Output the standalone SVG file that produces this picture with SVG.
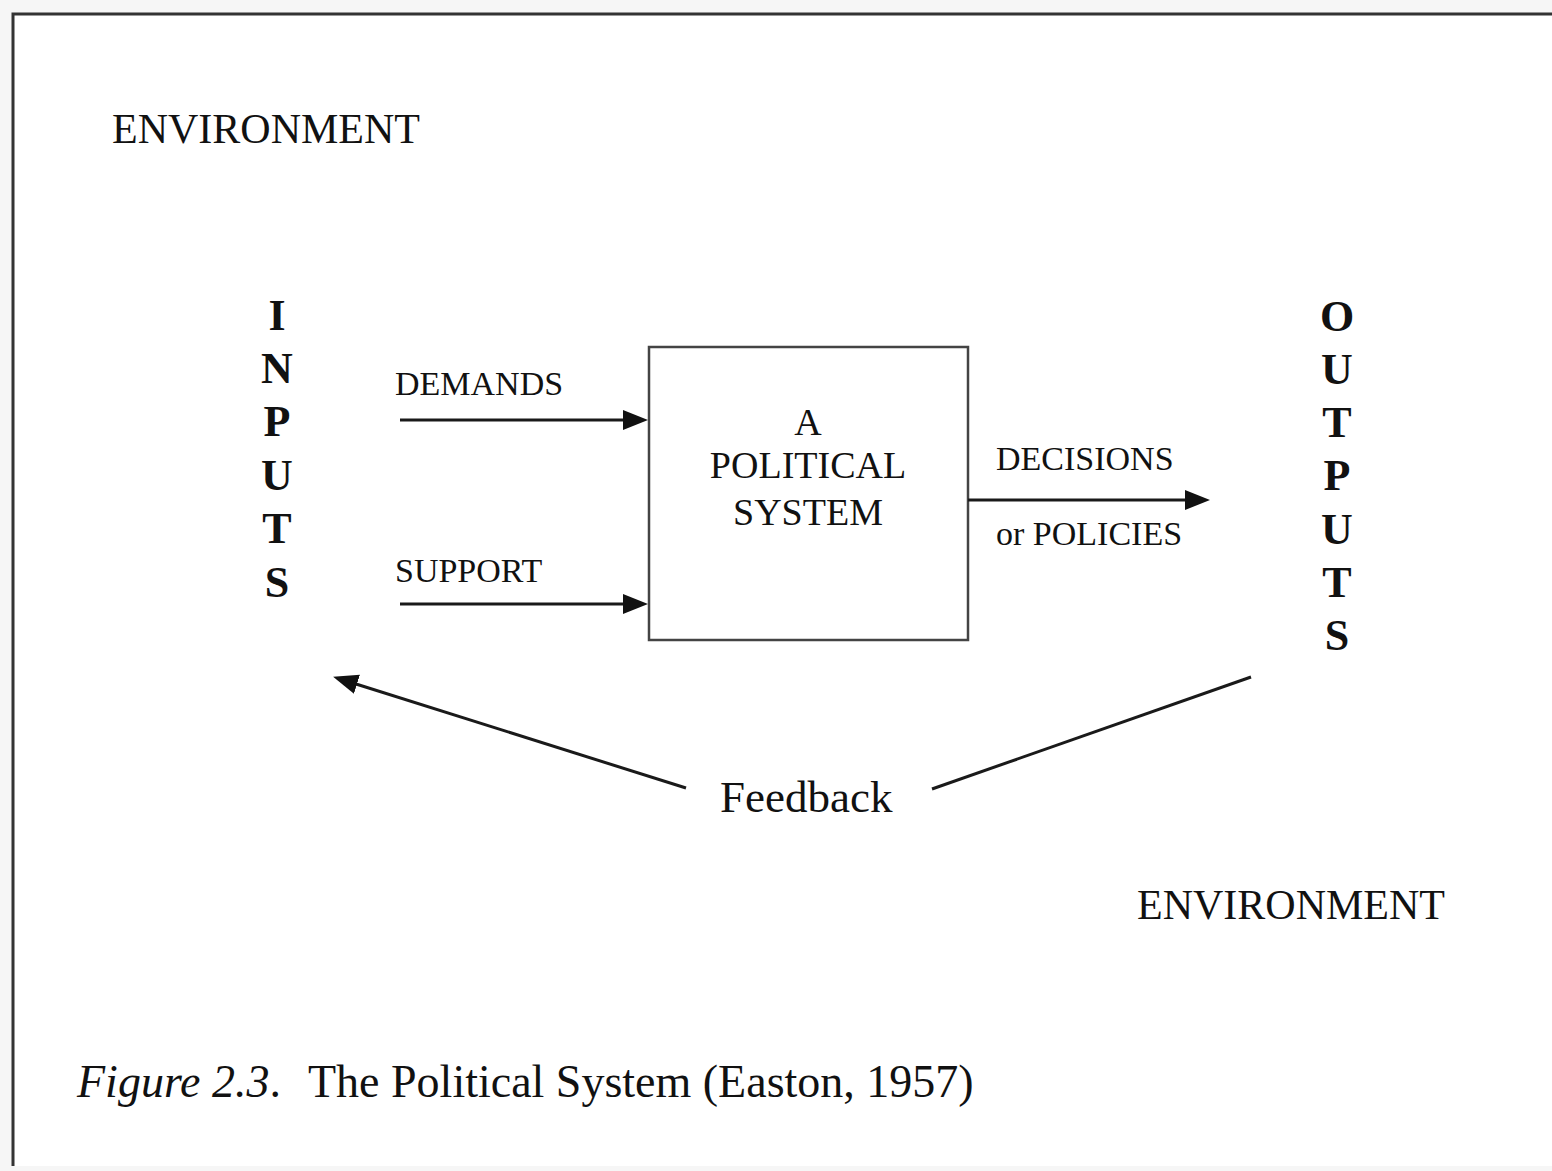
<svg xmlns="http://www.w3.org/2000/svg" width="1552" height="1171" viewBox="0 0 1552 1171">
  <style>
    .t { font-family: "Liberation Serif", "Times New Roman", serif; fill: #111; }
    .lbl { font-size: 34px; }
    .sys { font-size: 38px; }
    .env { font-size: 42px; }
    .vert { font-size: 44px; font-weight: bold; text-anchor: middle; }
    .fb { font-size: 45px; }
    .cap { font-size: 46px; }
    .conn { stroke: #1a1a1a; stroke-width: 3; fill: none; }
  </style>
  <defs>
    <marker id="head" markerUnits="userSpaceOnUse" markerWidth="28" markerHeight="22" refX="1" refY="10" orient="auto">
      <path d="M0,0 L25,10 L0,20 z" fill="#111"/>
    </marker>
  </defs>

  <!-- page background and frame -->
  <rect x="0" y="0" width="1552" height="1171" fill="#f6f6f6"/>
  <rect x="13" y="14" width="1539" height="1152" fill="#ffffff"/>
  <path d="M13,1166 L13,14 L1552,14" fill="none" stroke="#333" stroke-width="3"/>

  <!-- environment labels -->
  <g id="env-top"><text class="t env" x="112" y="143">ENVIRONMENT</text></g>
  <g id="env-bottom"><text class="t env" x="1137" y="919">ENVIRONMENT</text></g>

  <!-- inputs column -->
  <g id="inputs">
    <text class="t vert" x="277" y="330">I</text>
    <text class="t vert" x="277" y="383">N</text>
    <text class="t vert" x="277" y="436">P</text>
    <text class="t vert" x="277" y="490">U</text>
    <text class="t vert" x="277" y="543">T</text>
    <text class="t vert" x="277" y="597">S</text>
  </g>

  <!-- outputs column -->
  <g id="outputs">
    <text class="t vert" x="1337" y="331">O</text>
    <text class="t vert" x="1337" y="384">U</text>
    <text class="t vert" x="1337" y="437">T</text>
    <text class="t vert" x="1337" y="490">P</text>
    <text class="t vert" x="1337" y="544">U</text>
    <text class="t vert" x="1337" y="597">T</text>
    <text class="t vert" x="1337" y="650">S</text>
  </g>

  <!-- central system box -->
  <g id="political-system">
    <rect x="649" y="347" width="319" height="293" fill="#fff" stroke="#444" stroke-width="2.5"/>
    <text class="t sys" x="808" y="435" text-anchor="middle">A</text>
    <text class="t sys" x="808" y="478" text-anchor="middle">POLITICAL</text>
    <text class="t sys" x="808" y="525" text-anchor="middle">SYSTEM</text>
  </g>

  <!-- flow labels -->
  <g id="demands"><text class="t lbl" x="395" y="395">DEMANDS</text></g>
  <g id="support"><text class="t lbl" x="395" y="582">SUPPORT</text></g>
  <g id="decisions">
    <text class="t lbl" x="996" y="470">DECISIONS</text>
    <text class="t lbl" x="996" y="545">or POLICIES</text>
  </g>
  <g id="feedback"><text class="t fb" x="720" y="812">Feedback</text></g>

  <!-- connectors -->
  <g id="connectors">
    <line class="conn" x1="400" y1="420" x2="624" y2="420" marker-end="url(#head)"/>
    <line class="conn" x1="400" y1="604" x2="624" y2="604" marker-end="url(#head)"/>
    <line class="conn" x1="968" y1="500" x2="1186" y2="500" marker-end="url(#head)"/>
    <line class="conn" x1="686" y1="788" x2="356" y2="684" marker-end="url(#head)"/>
    <line class="conn" x1="932" y1="789" x2="1251" y2="677"/>
  </g>

  <!-- caption -->
  <g id="caption">
    <text class="t cap" x="77" y="1097"><tspan font-style="italic">Figure 2.3</tspan>.</text>
    <text class="t cap" x="308" y="1097">The Political System (Easton, 1957)</text>
  </g>
</svg>
